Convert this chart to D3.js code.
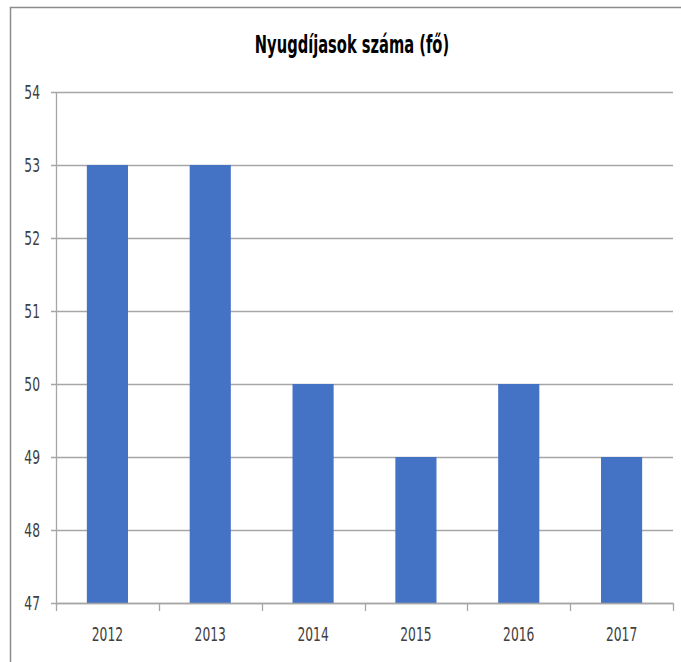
<!DOCTYPE html>
<html>
<head>
<meta charset="utf-8">
<script src="https://cdn.jsdelivr.net/npm/d3@7"></script>
<style>
  body { margin: 0; background: #fff; }
  svg { display: block; }
  text { font-family: "DejaVu Sans Condensed", "DejaVu Sans", sans-serif; font-stretch: condensed; }
  .axis text { font-size: 19px; fill: #404040; }
</style>
</head>
<body>
<div id="chart"></div>
<script>
const years = ["2012", "2013", "2014", "2015", "2016", "2017"];
const pensioners = [53, 53, 50, 49, 50, 49];
const yTicks = [47, 48, 49, 50, 51, 52, 53, 54];
const title = "Nyugdíjasok száma (fő)";

const W = 681, H = 662;
const margin = { top: 92, right: 8, bottom: 59, left: 56 };
const width = W - margin.left - margin.right;
const height = H - margin.top - margin.bottom;
const squeeze = 0.72; // narrow glyphs like the original's font

const svg = d3.select("#chart").append("svg")
  .attr("width", W)
  .attr("height", H);

// outer chart border (cropped on right/bottom)
svg.append("path")
  .attr("d", `M10.5,${H} V7.5 H${W}`)
  .attr("fill", "none")
  .attr("stroke", "#8c8c8c")
  .attr("stroke-width", 1.5);

svg.append("text")
  .attr("transform", `translate(352,53) scale(0.68,1)`)
  .attr("text-anchor", "middle")
  .style("font-weight", "bold")
  .style("font-size", "24px")
  .style("fill", "#000")
  .text(title);

const g = svg.append("g")
  .attr("transform", `translate(${margin.left},${margin.top})`);

const x = d3.scaleBand()
  .domain(years)
  .range([0, width])
  .paddingInner(0.6)
  .paddingOuter(0.3);

const xb = d3.scaleBand().domain(years).range([0, width]);

const y = d3.scaleLinear()
  .domain([47, 54])
  .range([height, 0]);

// gridlines
g.append("g")
  .selectAll("line")
  .data(yTicks)
  .join("line")
  .attr("x1", -5)
  .attr("x2", width)
  .attr("y1", d => Math.round(y(d)) + 0.5)
  .attr("y2", d => Math.round(y(d)) + 0.5)
  .attr("stroke", "#a6a6a6")
  .attr("stroke-width", 1.3);

// y axis line
g.append("line")
  .attr("x1", 0.5).attr("x2", 0.5)
  .attr("y1", 0).attr("y2", height)
  .attr("stroke", "#a6a6a6")
  .attr("stroke-width", 1.3);

// y labels
g.append("g")
  .attr("class", "axis")
  .selectAll("text")
  .data(yTicks)
  .join("text")
  .attr("transform", d => `translate(-16,${y(d)}) scale(${squeeze},1)`)
  .attr("dy", "0.35em")
  .attr("text-anchor", "end")
  .text(d3.format("d"));

// bars
g.selectAll("rect.bar")
  .data(years.map((yr, i) => ({ yr, v: pensioners[i] })))
  .join("rect")
  .attr("class", "bar")
  .attr("x", d => x(d.yr))
  .attr("width", x.bandwidth())
  .attr("y", d => y(d.v))
  .attr("height", d => height - y(d.v))
  .attr("fill", "#4472c4");

// x axis with ticks at category boundaries
const xAxis = g.append("g")
  .attr("class", "axis")
  .attr("transform", `translate(0,${height})`);

xAxis.append("line")
  .attr("x1", 0).attr("x2", width)
  .attr("y1", 0.5).attr("y2", 0.5)
  .attr("stroke", "#a6a6a6")
  .attr("stroke-width", 1.3);

xAxis.selectAll("line.tick")
  .data(years.map(d => xb(d)).concat([width]))
  .join("line")
  .attr("class", "tick")
  .attr("x1", d => Math.round(d) + 0.5)
  .attr("x2", d => Math.round(d) + 0.5)
  .attr("y1", 0).attr("y2", 8)
  .attr("stroke", "#a6a6a6")
  .attr("stroke-width", 1.3);

xAxis.selectAll("text")
  .data(years)
  .join("text")
  .attr("transform", d => `translate(${xb(d) + xb.bandwidth() / 2},38) scale(${squeeze},1)`)
  .attr("text-anchor", "middle")
  .text(d => d);
</script>
</body>
</html>
